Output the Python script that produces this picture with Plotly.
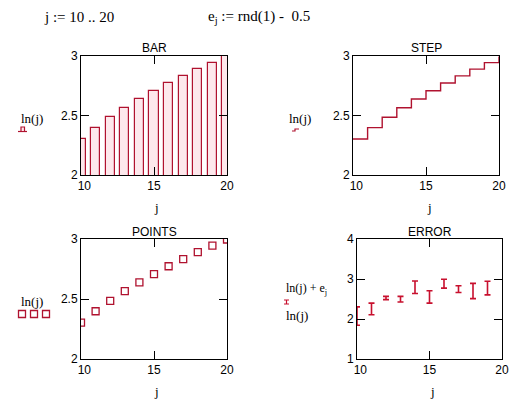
import plotly.graph_objects as go

# ---- data ----
j_vals = [10, 11, 12, 13, 14, 15, 16, 17, 18, 19, 20]
ln_j = [2.303, 2.398, 2.485, 2.565, 2.639, 2.708, 2.773, 2.833, 2.890, 2.944, 2.996]
# e_j read for j = 10..19 (no bar visible at j = 20)
e_j = [-0.46, -0.29, 0.08, -0.14, 0.31, -0.31, 0.22, -0.17, -0.38, -0.34]
x_ticks = [10, 15, 20]
x_ticktext = ["\u00a0\u00a010", "15", "20"]
y_ticks_a = [2, 2.5, 3]
y_ticktext_a = ["2", "2.5", "3"]
y_ticks_err = [1, 2, 3, 4]
y_ticktext_err = ["1", "2", "3", "4"]
panel_titles = ["BAR", "STEP", "POINTS", "ERROR"]

W, H = 531, 399
RED = "#b0122f"
ERR_RED = "#c8102e"
PINK = "#fde8ec"
SANS = "Liberation Sans, Arial, sans-serif"
SERIF = "Liberation Serif, Times New Roman, serif"


def px(x):
    return x / W


def py(y):
    return 1 - y / H


# panel pixel boxes: (left, right, top, bottom)
boxes = {
    "BAR": (81, 227, 56, 175),
    "STEP": (353, 499, 56, 175),
    "POINTS": (81, 227, 239, 359),
    "ERROR": (357, 502, 239, 359),
}

fig = go.Figure()

axis_names = ["", "2", "3", "4"]
for idx, name in enumerate(panel_titles):
    l, r, t, b = boxes[name]
    xa = "xaxis" + axis_names[idx]
    ya = "yaxis" + axis_names[idx]
    xref = "x" + axis_names[idx]
    yref = "y" + axis_names[idx]
    common = dict(
        showline=True, linecolor="black", linewidth=1, mirror="ticks",
        ticks="inside", ticklen=8, tickwidth=1, tickcolor="black",
        showgrid=False, zeroline=False, automargin=False,
        tickfont=dict(family=SANS, size=12, color="black"),
        fixedrange=True,
    )
    fig.layout[xa] = dict(
        domain=[px(l), px(r)], range=[10, 20], tickmode="array",
        tickvals=x_ticks, ticktext=x_ticktext, anchor=yref, **common,
    )
    if name == "ERROR":
        fig.layout[ya] = dict(
            domain=[py(b), py(t)], range=[1, 4], tickmode="array",
            tickvals=y_ticks_err, ticktext=y_ticktext_err, anchor=xref, **common,
        )
    else:
        fig.layout[ya] = dict(
            domain=[py(b), py(t)], range=[2, 3], tickmode="array",
            tickvals=y_ticks_a, ticktext=y_ticktext_a, anchor=xref, **common,
        )

# BAR
fig.add_trace(go.Bar(
    x=j_vals, y=ln_j, width=0.62, xaxis="x", yaxis="y",
    marker=dict(color=PINK, line=dict(color=RED, width=1.2)),
    showlegend=False,
))
# STEP
fig.add_trace(go.Scatter(
    x=j_vals, y=ln_j, mode="lines", line=dict(color=RED, width=1.4, shape="hv"),
    xaxis="x2", yaxis="y2", showlegend=False, cliponaxis=True,
))
# POINTS
fig.add_trace(go.Scatter(
    x=j_vals, y=ln_j, mode="markers",
    marker=dict(symbol="square-open", size=7, color=RED, line=dict(width=1.3, color=RED)),
    xaxis="x3", yaxis="y3", showlegend=False, cliponaxis=True,
))
# ERROR
n_err = len(e_j)
err_plus = [max(e, 0) for e in e_j]
err_minus = [max(-e, 0) for e in e_j]
fig.add_trace(go.Scatter(
    x=j_vals[:n_err], y=ln_j[:n_err], mode="markers",
    marker=dict(size=1, color="rgba(0,0,0,0)"),
    error_y=dict(type="data", symmetric=False, array=err_plus, arrayminus=err_minus,
                 color=ERR_RED, thickness=1.6, width=3),
    xaxis="x4", yaxis="y4", showlegend=False, cliponaxis=True,
))

ann = []


def text(x, y, s, size=12, family=SERIF, xanchor="center"):
    ann.append(dict(x=px(x), y=py(y), xref="paper", yref="paper", text=s,
                    showarrow=False, xanchor=xanchor, yanchor="middle",
                    font=dict(family=family, size=size, color="black")))


# panel titles
text(154, 48, "BAR", family=SANS)
text(426, 48, "STEP", family=SANS)
text(154, 232, "POINTS", family=SANS)
text(430, 232, "ERROR", family=SANS)

# top definitions
text(42, 17, "j := 10 .. 20", size=15, xanchor="left")
text(206, 17, "e<sub>j</sub> := rnd(1) -  0.5", size=15, xanchor="left")

# axis titles
text(156, 207, "j", size=13)
text(429, 207, "j", size=13)
text(156, 391, "j", size=13)
text(432, 391, "j", size=13)

# legend labels
text(19, 118, "ln(j)", size=13, xanchor="left")
text(287, 118, "ln(j)", size=13, xanchor="left")
text(19, 301, "ln(j)", size=13, xanchor="left")
text(284, 289, "ln(j) + e<sub>j</sub>", size=12, xanchor="left")
text(284, 315, "ln(j)", size=13, xanchor="left")

shapes = []
# bar legend glyph
shapes.append(dict(type="line", xref="paper", yref="paper", x0=px(18), x1=px(27),
                   y0=py(131.5), y1=py(131.5), line=dict(color=RED, width=1.2)))
shapes.append(dict(type="rect", xref="paper", yref="paper", x0=px(21), x1=px(24.5),
                   y0=py(131.5), y1=py(127), fillcolor=PINK, line=dict(color=RED, width=1.2)))
# step legend glyph
shapes.append(dict(type="path", xref="paper", yref="paper",
                   path="M {} {} L {} {} L {} {} L {} {}".format(
                       px(292), py(131), px(295), py(131), px(295), py(129), px(299), py(129)),
                   line=dict(color=RED, width=1.2)))
# points legend glyph
for cx in (22, 34, 46):
    shapes.append(dict(type="rect", xref="paper", yref="paper",
                       x0=px(cx - 3.5), x1=px(cx + 3.5), y0=py(314 + 3.5), y1=py(314 - 3.5),
                       line=dict(color=RED, width=1.3)))
# error legend glyph
shapes.append(dict(type="path", xref="paper", yref="paper",
                   path="M {} {} L {} {} M {} {} L {} {} M {} {} L {} {}".format(
                       px(284), py(300), px(289), py(300),
                       px(286.5), py(300), px(286.5), py(304),
                       px(284), py(304), px(289), py(304)),
                   line=dict(color=ERR_RED, width=1.2)))

fig.update_layout(
    width=W, height=H, margin=dict(l=0, r=0, t=0, b=0),
    paper_bgcolor="white", plot_bgcolor="white",
    annotations=ann, shapes=shapes, showlegend=False, bargap=0,
)

fig.write_html(
    "out.html",
    config={"displayModeBar": False},
    post_script="document.body.style.margin='0px';document.body.style.overflow='hidden';",
)
